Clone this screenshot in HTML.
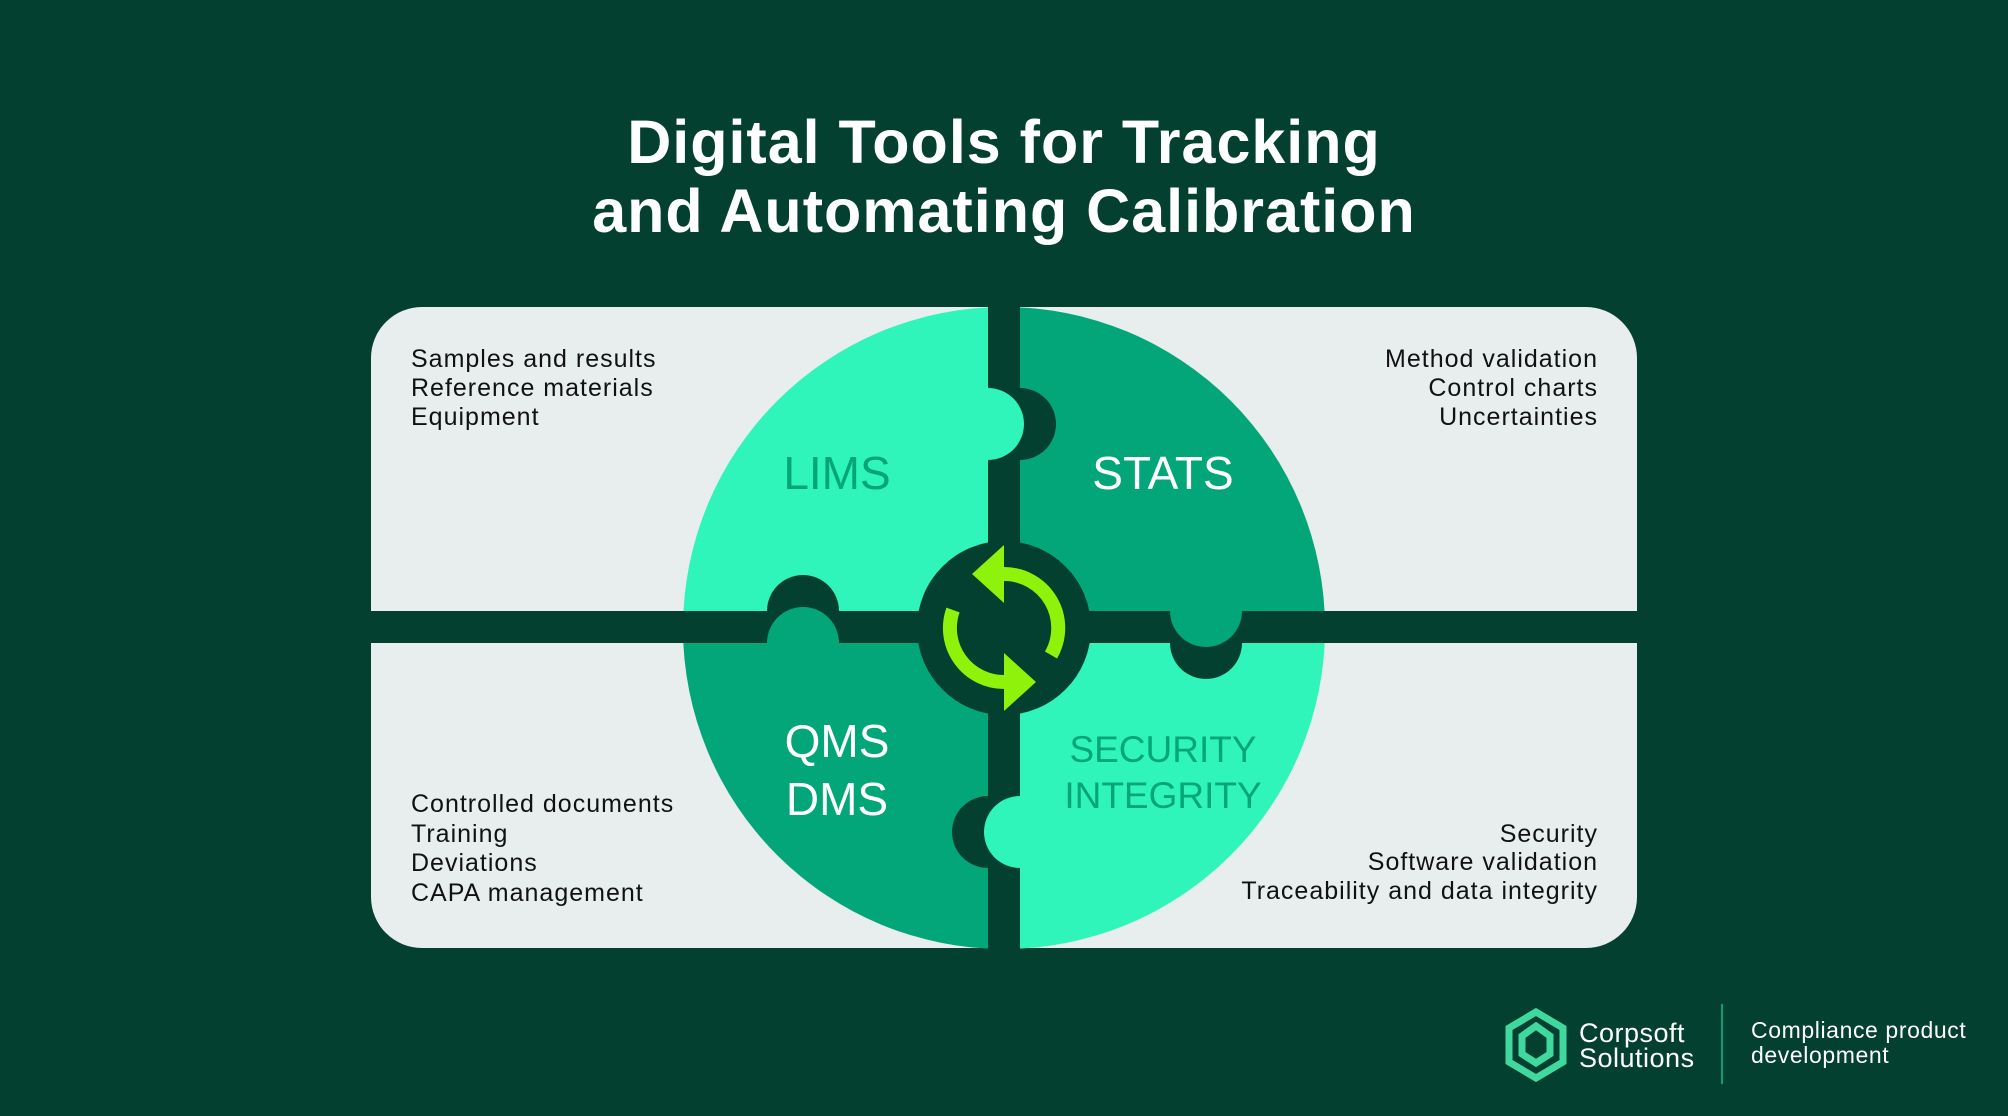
<!DOCTYPE html>
<html><head><meta charset="utf-8"><style>
html,body{margin:0;padding:0;background:#03402f;}
svg{display:block}
text{font-family:"Liberation Sans",sans-serif}
</style></head><body>
<svg width="2008" height="1116" viewBox="0 0 2008 1116" xmlns="http://www.w3.org/2000/svg">
<rect width="2008" height="1116" fill="#03402f"/>
<text x="1004" y="163" text-anchor="middle" font-size="61" font-weight="bold" letter-spacing="1" fill="#fff">Digital Tools for Tracking</text>
<text x="1004" y="232" text-anchor="middle" font-size="61" font-weight="bold" letter-spacing="1" fill="#fff">and Automating Calibration</text>
<rect x="371" y="307" width="1266" height="641" rx="51" fill="#e7eeed"/>
<!-- quadrants -->
<path d="M1004,628 L683,628 A321,321 0 0 1 1004,307 Z" fill="#30f5bb"/>
<path d="M1004,628 L1004,307 A321,321 0 0 1 1325,628 Z" fill="#03a678"/>
<path d="M1004,628 L1325,628 A321,321 0 0 1 1004,949 Z" fill="#30f5bb"/>
<path d="M1004,628 L1004,949 A321,321 0 0 1 683,628 Z" fill="#03a678"/>
<!-- dark knob sockets -->
<g fill="#03402f">
<circle cx="1020" cy="424" r="36"/>
<circle cx="803" cy="611" r="36"/>
<circle cx="1206" cy="643" r="36"/>
<circle cx="988" cy="832" r="36"/>
<rect x="988" y="300" width="32" height="656"/>
<rect x="371" y="611" width="1266" height="32"/>
</g>
<!-- knob bumps -->
<circle cx="988" cy="424" r="36" fill="#30f5bb"/>
<circle cx="803" cy="643" r="36" fill="#03a678"/>
<circle cx="1206" cy="611" r="36" fill="#03a678"/>
<circle cx="1020" cy="832" r="36" fill="#30f5bb"/>
<circle cx="1004" cy="628" r="87" fill="#03402f"/>
<!-- arrows -->
<g fill="none" stroke="#8ff20a" stroke-width="14">
<path d="M1004,574 A54,54 0 0 1 1051,655"/>
<path d="M953,610 A54,54 0 0 0 1004,682"/>
</g>
<polygon points="1004,545 1004,603 972,574" fill="#8ff20a"/>
<polygon points="1004,653 1004,711 1036,682" fill="#8ff20a"/>
<!-- labels -->
<g font-size="46" text-anchor="middle">
<text x="837" y="489" fill="#03a678">LIMS</text>
<text x="1163" y="489" fill="#fff">STATS</text>
<text x="837" y="757" fill="#fff">QMS</text>
<text x="837" y="815" fill="#fff">DMS</text>
</g>
<g font-size="37" text-anchor="middle" fill="#03a678">
<text x="1163" y="762">SECURITY</text>
<text x="1163" y="808">INTEGRITY</text>
</g>
<g font-size="25" fill="#111" letter-spacing="1">
<text x="411" y="367">Samples and results</text>
<text x="411" y="396">Reference materials</text>
<text x="411" y="425">Equipment</text>
<text x="411" y="812">Controlled documents</text>
<text x="411" y="842">Training</text>
<text x="411" y="871">Deviations</text>
<text x="411" y="901">CAPA management</text>
</g>
<g font-size="25" fill="#111" text-anchor="end" letter-spacing="1">
<text x="1598" y="367">Method validation</text>
<text x="1598" y="396">Control charts</text>
<text x="1598" y="425">Uncertainties</text>
<text x="1598" y="842">Security</text>
<text x="1598" y="870">Software validation</text>
<text x="1598" y="899">Traceability and data integrity</text>
</g>
<!-- logo -->
<g fill="none" stroke="#3fd9a0" stroke-width="7">
<polygon points="1536,1012 1563,1028 1563,1062 1536,1078 1509,1062 1509,1028"/>
<polygon points="1536,1026 1550,1036 1550,1054 1536,1063 1522,1054 1522,1036"/>
</g>
<text x="1579" y="1042" font-size="27" fill="#fff" letter-spacing="0.5">Corpsoft</text>
<text x="1579" y="1067" font-size="27" fill="#fff" letter-spacing="0.5">Solutions</text>
<rect x="1721" y="1004" width="2" height="80" fill="#0aa070"/>
<text x="1751" y="1038" font-size="23" fill="#fff" letter-spacing="0.6">Compliance product</text>
<text x="1751" y="1063" font-size="23" fill="#fff" letter-spacing="0.6">development</text>
</svg>
</body></html>
